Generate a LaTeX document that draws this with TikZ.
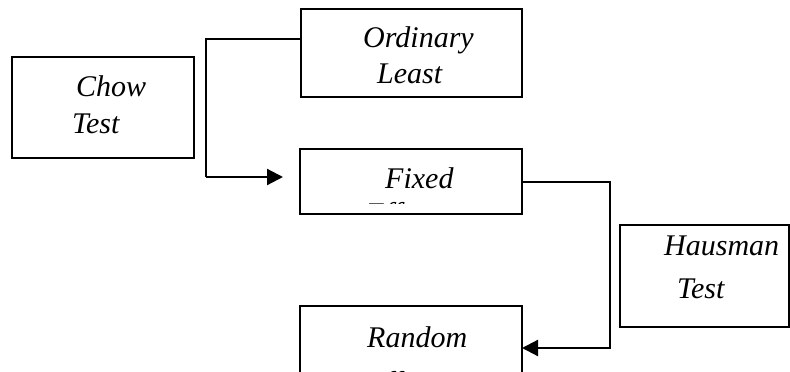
\documentclass[tikz,border=0pt]{standalone}
\usepackage{fontspec}
\setmainfont{Liberation Serif}
\usetikzlibrary{arrows.meta}
\tikzset{
  box/.style={draw, line width=2.8pt, inner sep=0pt, outer sep=0pt},
  label/.style={anchor=base west, inner sep=0pt, font=\fontsize{30}{37}\selectfont\itshape},
  link/.style={draw, line width=2.2pt},
  tip/.style={-{Triangle[length=16pt,width=16pt]}}
}
\begin{document}
\begin{tikzpicture}[x=1pt,y=-1pt]
\useasboundingbox (0,0) rectangle (790,372);

% boxes
\node[box, minimum width=182pt, minimum height=101pt] (chow) at (103,107.5) {};
\node[box, minimum width=221pt, minimum height=88pt] (ols) at (411.5,53) {};
\node[box, minimum width=222pt, minimum height=65pt] (fixed) at (411,181.5) {};
\node[box, minimum width=169pt, minimum height=102pt] (haus) at (704.5,276) {};
\node[box, minimum width=222pt, minimum height=90pt] (random) at (411,351) {};

% labels
\node[label] (chowA) at (76,96) {Chow};
\node[label] (chowB) at (72,133) {Test};
\node[label] (olsA) at (363,47) {Ordinary};
\node[label] (olsB) at (377,83) {Least};
\node[label] (fixedA) at (385,188) {Fixed};
\begin{scope}
  \clip (302,150) rectangle (520,203.5);
  \node[label] (fixedB) at (366,223) {Effects};
\end{scope}
\node[label] (hausA) at (664,255) {Hausman};
\node[label] (hausB) at (677,298) {Test};
\node[label] (randomA) at (367,347) {Random};
\begin{scope}
  \clip (302,308) rectangle (520,372);
  \node[label] (randomB) at (366,392) {Effects};
\end{scope}

% connectors
\coordinate (j1) at (206,39);
\coordinate (j2) at (206,177);
\coordinate (e1) at (283,177);
\coordinate (j3) at (610,182);
\coordinate (j4) at (610,348);
\draw[link] (ols.west |- j1) -- (j1) -- (j2);
\draw[link,tip] (j2) -- (e1);
\draw[link,tip] (fixed.east |- j3) -- (j3) -- (j4) -- (random.east |- j4);
\end{tikzpicture}
\end{document}
